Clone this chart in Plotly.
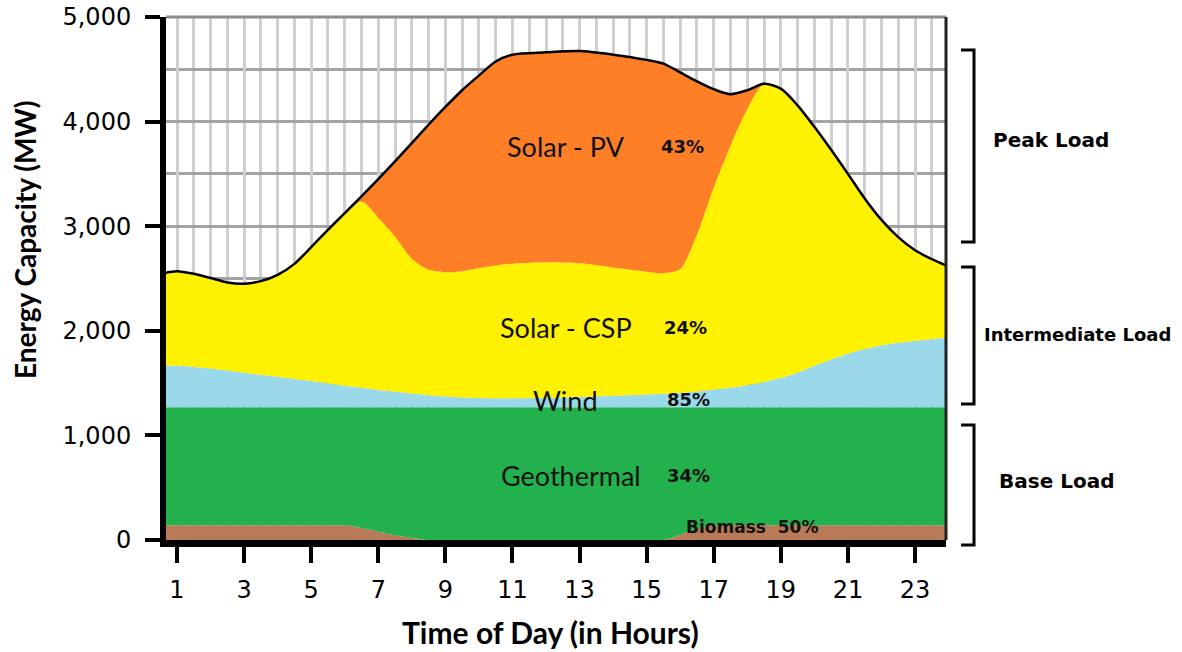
import plotly.graph_objects as go

# ---- data (MW per layer, stacked) ----
hours = [0.67, 1, 1.5, 2, 2.5, 3, 3.5, 4, 4.5, 5, 5.5, 6, 6.5, 7, 7.5, 8, 8.5, 9, 9.5, 10,
         10.5, 11, 12, 13, 14, 15, 15.5, 16, 16.5, 17, 17.5, 18, 18.5, 19, 19.5, 20, 20.5,
         21, 21.5, 22, 22.5, 23, 23.5, 23.92]

biomass = [140, 140, 140, 140, 140, 140, 140, 140, 140, 140, 140, 140, 115, 80, 45, 20, 0, 0, 0, 0,
           0, 0, 0, 0, 0, 0, 0, 50, 110, 140, 140, 140, 140, 140, 140, 140, 140,
           140, 140, 140, 140, 140, 140, 140]

geothermal = [1130, 1130, 1130, 1130, 1130, 1130, 1130, 1130, 1130, 1130, 1130, 1130, 1155, 1190, 1225, 1250, 1270, 1270, 1270, 1270,
              1270, 1270, 1270, 1270, 1270, 1270, 1270, 1220, 1160, 1130, 1130, 1130, 1130, 1130, 1130, 1130, 1130,
              1130, 1130, 1130, 1130, 1130, 1130, 1130]

wind = [400, 395, 385, 370, 350, 328, 310, 290, 270, 250, 227, 205, 185, 165, 150, 130, 115, 102, 92, 87,
        85, 85, 90, 98, 108, 120, 127, 135, 150, 170, 185, 210, 240, 280, 330, 395, 455,
        510, 555, 590, 615, 635, 650, 660]

solar_csp = [885, 905, 890, 865, 842, 852, 895, 975, 1100, 1280, 1468, 1650, 1780, 1645, 1480, 1290, 1200, 1188, 1208, 1243,
             1270, 1287, 1295, 1277, 1227, 1175, 1153, 1185, 1500, 1930, 2315, 2640, 2852, 2765, 2555, 2285, 2005,
             1720, 1440, 1200, 1010, 865, 765, 695]

solar_pv = [0, 0, 0, 0, 0, 0, 0, 0, 0, 0, 0, 0, 50, 370, 720, 1105, 1385, 1580, 1730, 1840,
            1950, 1998, 2007, 2030, 2035, 2025, 2005, 1880, 1465, 940, 492, 180, 0, 0, 0, 0, 0,
            0, 0, 0, 0, 0, 0, 0]

x_ticks = [1, 3, 5, 7, 9, 11, 13, 15, 17, 19, 21, 23]
y_ticks = [0, 1000, 2000, 3000, 4000, 5000]

layers = [
    ("Biomass", biomass, "#B97A57"),
    ("Geothermal", geothermal, "#22B14C"),
    ("Wind", wind, "#99D9EA"),
    ("Solar - CSP", solar_csp, "#FFF200"),
    ("Solar - PV", solar_pv, "#FF7F27"),
]

fig = go.Figure()
for name, vals, col in layers:
    is_top = name == "Solar - PV"
    fig.add_trace(go.Scatter(
        x=hours, y=vals, name=name, stackgroup="one", mode="lines",
        fillcolor=col,
        line=dict(width=2.5 if is_top else 0, color="black" if is_top else col,
                  shape="spline", smoothing=0.8),
        hoverinfo="skip",
    ))

W, H = 1182, 652
L, R, T, B = 166, 946, 17, 540   # plot area in page pixels


def px(x):
    return (x - L) / (R - L)


def py(y):
    return (B - y) / (B - T)


tick_font = dict(family="DejaVu Sans", size=24, color="black")

fig.update_layout(
    width=W, height=H,
    margin=dict(l=L, r=W - R, t=T, b=H - B, pad=0),
    paper_bgcolor="white", plot_bgcolor="white",
    showlegend=False,
    xaxis=dict(
        range=[0.672, 23.924], tickvals=x_ticks, ticktext=[str(v) for v in x_ticks],
        ticks="outside", ticklen=16, tickwidth=4, tickcolor="black",
        showline=True, linewidth=7, linecolor="black",
        showgrid=True, gridcolor="#CFCFCF", gridwidth=3,
        minor=dict(dtick=0.5, tick0=1, showgrid=True, gridcolor="#CFCFCF", gridwidth=3, ticks=""),
        tickfont=tick_font, ticklabelstandoff=6, zeroline=False, automargin=False,
        ticklabeloverflow="allow",
    ),
    yaxis=dict(
        range=[0, 5000], tickvals=y_ticks, tickformat=",d",
        ticks="outside", ticklen=15, tickwidth=4, tickcolor="black",
        showline=True, linewidth=6, linecolor="black",
        showgrid=True, gridcolor="#A3A3A3", gridwidth=3,
        minor=dict(dtick=500, tick0=0, showgrid=True, gridcolor="#A3A3A3", gridwidth=3, ticks=""),
        tickfont=tick_font, ticklabelstandoff=9, zeroline=False, automargin=False,
        ticklabeloverflow="allow",
    ),
)

# top and right borders of the plot frame
fig.add_shape(type="line", xref="paper", yref="paper", x0=0, x1=1, y0=1, y1=1,
              line=dict(color="#8C8C8C", width=3), layer="above")
fig.add_shape(type="line", xref="paper", yref="paper", x0=1, x1=1, y0=0, y1=1,
              line=dict(color="#222222", width=3), layer="above")

# brackets on the right
for top_px, bot_px in [(50, 242), (267, 404), (425, 545)]:
    xa, xb = px(961), px(974)
    ya, yb = py(top_px), py(bot_px)
    fig.add_shape(type="path", xref="paper", yref="paper",
                  path=f"M {xa},{ya} L {xb},{ya} L {xb},{yb} L {xa},{yb}",
                  line=dict(color="black", width=3))

ann = []
label_font = dict(family="Lato", size=27, color="#111111")
pct_font = dict(family="DejaVu Sans", size=18, color="#111111")
for text, xc, yc, f in [
    ("Solar - PV", 566, 146, label_font), ("43%", 682, 146, pct_font),
    ("Solar - CSP", 566, 327, label_font), ("24%", 685, 327, pct_font),
    ("Wind", 565, 401, label_font), ("85%", 688, 399, pct_font),
    ("Geothermal", 571, 475, label_font), ("34%", 688, 475, pct_font),
]:
    ann.append(dict(text=("<b>%s</b>" % text) if "%" in text else text,
                    x=px(xc), y=py(yc), xref="paper", yref="paper",
                    showarrow=False, font=f, xanchor="center", yanchor="middle"))
ann.append(dict(text="<b>Biomass  50%</b>", x=px(752), y=py(527), xref="paper", yref="paper",
                showarrow=False, font=dict(family="DejaVu Sans", size=17, color="#111111"),
                xanchor="center", yanchor="middle"))

for text, xc, yc, size in [("Peak Load", 1051, 140, 20), ("Intermediate Load", 1077, 335, 18),
                           ("Base Load", 1056, 481, 20)]:
    ann.append(dict(text="<b>%s</b>" % text, x=px(xc), y=py(yc), xref="paper", yref="paper",
                    showarrow=False, font=dict(family="DejaVu Sans", size=size, color="black"),
                    xanchor="center", yanchor="middle"))

ann.append(dict(text="<b>Time of Day (in Hours)</b>", x=px(550), y=py(632), xref="paper", yref="paper",
                showarrow=False, font=dict(family="Lato", size=30, color="black"),
                xanchor="center", yanchor="middle"))
ann.append(dict(text="<b>Energy Capacity (MW)</b>", x=px(25), y=py(240), xref="paper", yref="paper",
                showarrow=False, font=dict(family="Lato", size=28, color="black"),
                textangle=-90, xanchor="center", yanchor="middle"))
fig.update_layout(annotations=ann)

# remove the browser's default 8px page margin so the figure sits at the page origin
fig.write_html("out.html", config={"displayModeBar": False},
               post_script="document.body.style.margin='0';")
